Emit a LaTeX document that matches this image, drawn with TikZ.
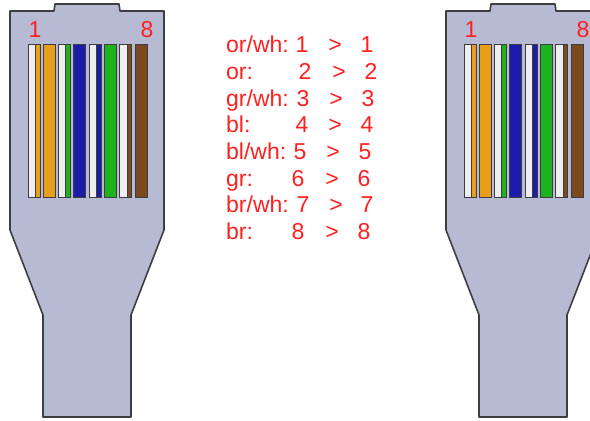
\documentclass[tikz,border=0pt]{standalone}
\usepackage{fontspec}
\setmainfont{Liberation Sans}
\definecolor{plug}{RGB}{182,186,210}
\definecolor{rim}{RGB}{62,62,66}
\definecolor{pinred}{RGB}{255,32,32}
\definecolor{wor}{RGB}{232,158,24}
\definecolor{wgr}{RGB}{30,178,30}
\definecolor{wbl}{RGB}{28,28,170}
\definecolor{wbr}{RGB}{122,74,30}
\definecolor{strip}{RGB}{238,238,238}
\tikzset{
  body/.style={fill=plug, draw=rim, line width=1.6pt, line join=round},
  wire/.style={draw=rim, line width=0.9pt},
  pin/.style={text=pinred, font=\fontsize{23}{27}\selectfont, inner sep=0pt}
}

\begin{document}
\begin{tikzpicture}[x=1pt, y=-1pt]
  \clip (0,0) rectangle (590,421);
  \fill[white] (0,0) rectangle (590,421);
  % the two plugs
  \foreach \off in {0,436} {
    \begin{scope}[xshift=\off]
      \draw[body] (10,230) -- (10,11) -- (54,11) -- (55,4) -- (119,4) -- (120,11)
        -- (164,11) -- (164,230) -- (131,315) -- (131,417) -- (43,417) -- (43,315) -- cycle;
      \foreach \c/\s [count=\i from 0] in {wor/1,wor/0,wgr/1,wbl/0,wbl/1,wgr/0,wbr/1,wbr/0} {
        \pgfmathsetmacro\xl{28+15.3*\i}
        \fill[\c] (\xl,44) rectangle ++(12,153);
        \ifnum\s=1
          \fill[strip] (\xl,44) rectangle ++(7,153);
          \draw[rim, thin] (\xl+7,44) -- ++(0,153);
        \fi
        \draw[wire] (\xl,44) rectangle ++(12,153);
      }
      \node[pin, anchor=base] (one\off) at (35,37) {1};
      \node[pin, anchor=base] (eight\off) at (147,37) {8};
    \end{scope}
  }
  % pin table
  \foreach \lbl/\xa/\xb/\xc [count=\i] in {{or/wh:}/302/335/367, {or:}/305/339/371,
      {gr/wh:}/303/336/368, {bl:}/302/335/367, {bl/wh:}/300/333/365,
      {gr:}/298/332/364, {br/wh:}/303/336/367, {br:}/298/332/364} {
    \pgfmathsetmacro\yb{52.7+26.67*(\i-1)}
    \node[pin, anchor=base west] (name\i) at (226,\yb) {\lbl};
    \node[pin, anchor=base] (from\i) at (\xa,\yb) {\i};
    \node[pin, anchor=base] (gt\i) at (\xb,\yb) {>};
    \node[pin, anchor=base] (to\i) at (\xc,\yb) {\i};
  }
\end{tikzpicture}
\end{document}
